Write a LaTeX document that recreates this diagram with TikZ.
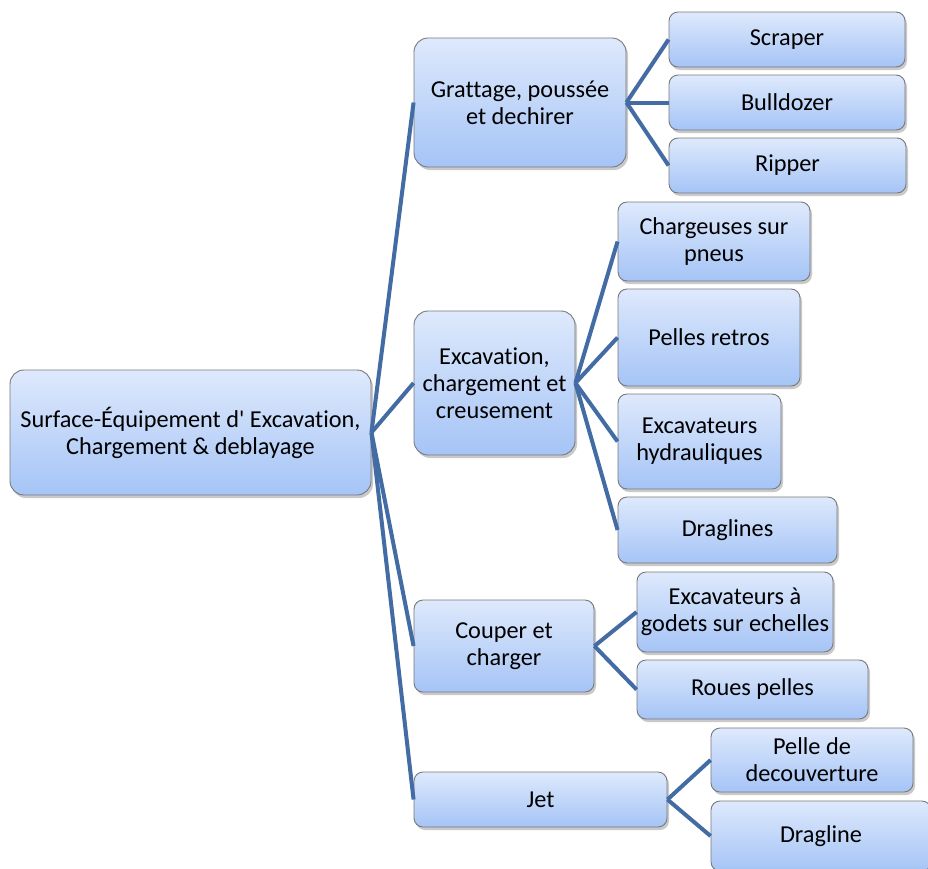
\documentclass[tikz,border=0pt]{standalone}
\usepackage{fontspec}
\setmainfont{Carlito}[Ligatures={NoCommon,NoRequired,NoContextual}, RawFeature={-liga;-clig}]
\usetikzlibrary{shadows}
\newcommand{\straightapos}{\XeTeXglyph\XeTeXcharglyph"0027\relax}
\definecolor{boxtop}{RGB}{222,233,252}
\definecolor{boxbot}{RGB}{165,196,246}
\definecolor{boxline}{RGB}{120,120,125}
\definecolor{linkcol}{RGB}{66,108,163}
\tikzset{
  box/.style={draw=boxline, line width=0.9pt, rounded corners=9pt,
    top color=boxtop, bottom color=boxbot, inner sep=0pt, align=center,
    font=\fontsize{24.3}{27}\selectfont, text=black,
    drop shadow={shadow xshift=2pt, shadow yshift=-3pt, opacity=0.35, fill=black!60}},
  bigbox/.style={box, rounded corners=14pt},
  link/.style={draw=linkcol, line width=4pt}
}
\begin{document}
\begin{tikzpicture}[x=1pt,y=-1pt]
\useasboundingbox (0,0) rectangle (928,868);
\clip (0,0) rectangle (928,868);
\fill[white] (0,0) rectangle (928,868);
\node[bigbox, minimum width=361pt, minimum height=125pt] (root) at (190.5,432.5) {Surface-Équipement d\straightapos{} Excavation,\\Chargement \& deblayage};
\node[bigbox, minimum width=212pt, minimum height=129pt] (g1) at (520,102.5) {Grattage, poussée\\et dechirer};
\node[bigbox, minimum width=161pt, minimum height=144pt] (g2) at (494.5,383) {Excavation,\\chargement et\\creusement};
\node[box, minimum width=180pt, minimum height=92pt] (g3) at (504,646) {Couper et\\charger};
\node[box, minimum width=253pt, minimum height=55pt] (g4) at (540.5,799.5) {Jet};
\node[box, minimum width=236pt, minimum height=55pt] (s1) at (787,39.5) {Scraper};
\node[box, minimum width=236pt, minimum height=55pt] (s2) at (787,102.5) {Bulldozer};
\node[box, minimum width=237pt, minimum height=55pt] (s3) at (787.5,165.5) {Ripper};
\node[box, minimum width=192pt, minimum height=79pt] (e1) at (714,241.5) {Chargeuses sur\\pneus};
\node[box, minimum width=182pt, minimum height=97pt] (e2) at (709,337.5) {Pelles retros};
\node[box, minimum width=163pt, minimum height=95pt] (e3) at (699.5,441.5) {Excavateurs\\hydrauliques};
\node[box, minimum width=219pt, minimum height=66pt] (e4) at (727.5,530) {Draglines};
\node[box, minimum width=196pt, minimum height=80pt] (c1) at (735,612) {Excavateurs à\\godets sur echelles};
\node[box, minimum width=231pt, minimum height=59pt] (c2) at (752.5,689.5) {Roues pelles};
\node[box, minimum width=202pt, minimum height=64pt] (j1) at (812,760) {Pelle de\\decouverture};
\node[box, minimum width=220pt, minimum height=70pt] (j2) at (821,836) {Dragline};
\foreach \c in {g1,g2,g3,g4} \draw[link] (root.east) -- (\c.west);
\foreach \c in {s1,s2,s3} \draw[link] (g1.east) -- (\c.west);
\foreach \c in {e1,e2,e3,e4} \draw[link] (g2.east) -- (\c.west);
\foreach \c in {c1,c2} \draw[link] (g3.east) -- (\c.west);
\foreach \c in {j1,j2} \draw[link] (g4.east) -- (\c.west);
\end{tikzpicture}
\end{document}
